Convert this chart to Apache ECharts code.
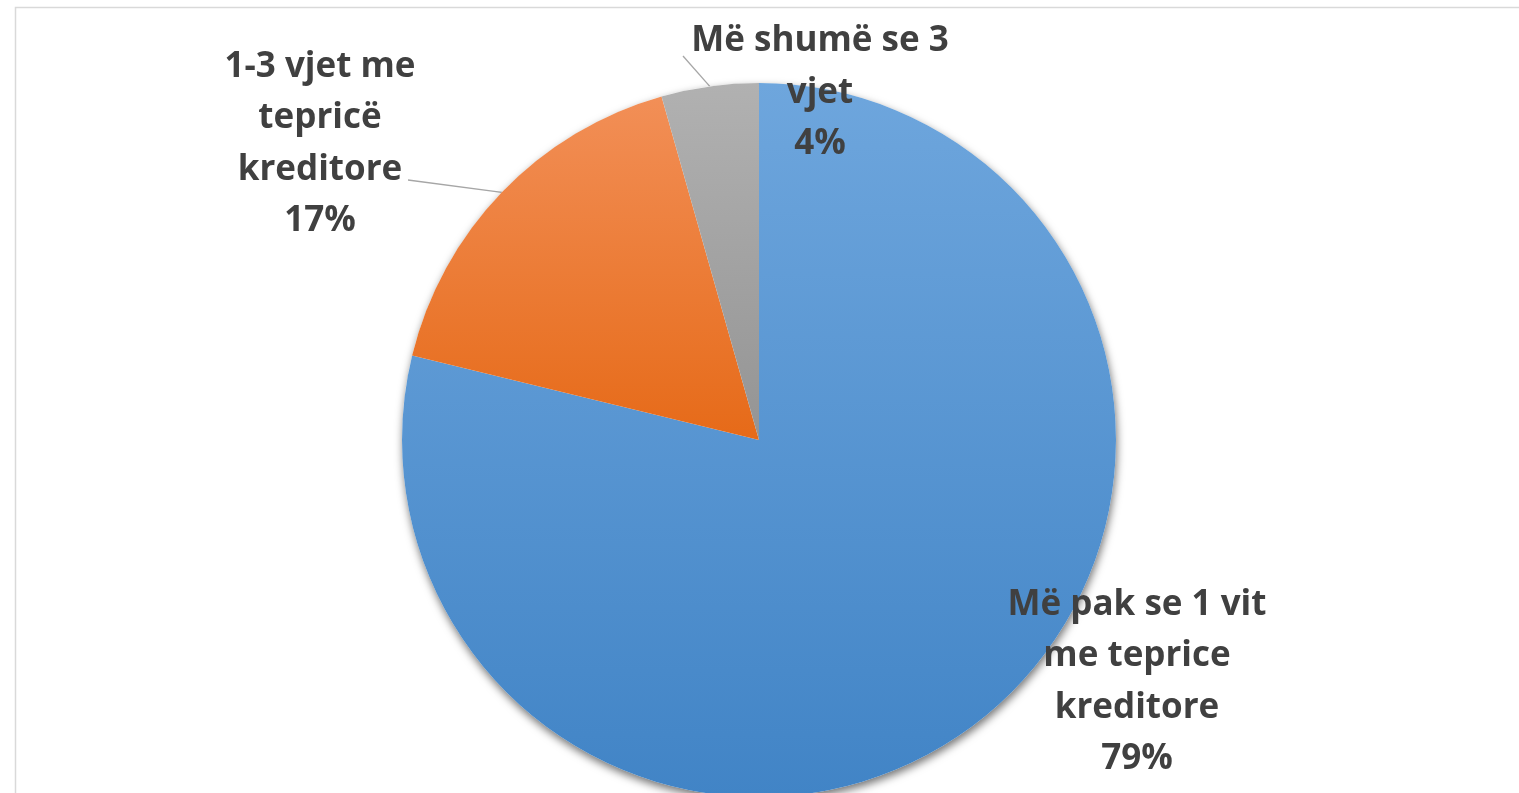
<!DOCTYPE html>
<html>
<head>
    <meta charset="utf-8" />
    <script src="https://cdn.jsdelivr.net/npm/echarts@6/dist/echarts.min.js"></script>
</head>
<body>
    <style>
        html, body { margin: 0; padding: 0; height: 100%; background: #fff; }
        #main { width: 1519px; height: 793px; }
    </style>
    <div id="main"></div>
    <script type="text/javascript">
        // slice names (line breaks as in the original chart) and their shares
        const names = [
            'Më pak se 1 vit\nme teprice\nkreditore',
            '1-3 vjet me\ntepricë\nkreditore',
            'Më shumë se 3\nvjet'
        ];
        const values = [78.8, 16.8, 4.4];
        // gradient top / bottom per slice
        const topColors = ['#6ea6dd', '#f28f57', '#b1b1b1'];
        const bottomColors = ['#4184c6', '#e66a18', '#949494'];
        // where each label block sits (centre of the text block)
        const labelSpots = [[1137, 682], [320, 144], [820, 93]];
        // where the leader line leaves the label (null = no line)
        const lineStarts = [null, [408, 180], [683, 56]];

        const CENTER = [759, 440];
        const RADIUS = 357;

        var chart = echarts.init(document.getElementById('main'), null, { renderer: 'canvas' });

        const sliceData = names.map((n, i) => ({
            name: n,
            value: values[i],
            itemStyle: {
                color: new echarts.graphic.LinearGradient(0, 0, 0, 1, [
                    { offset: 0, color: topColors[i] },
                    { offset: 1, color: bottomColors[i] }
                ])
            },
            labelLine: { show: i !== 0 }
        }));

        chart.setOption({
            animation: false,
            graphic: [{
                type: 'rect',
                left: 13, top: 5,
                shape: { width: 1540, height: 820 },
                style: { fill: 'none', stroke: '#d9d9d9', lineWidth: 1.5 },
                silent: true
            }],
            series: [
                {
                    // drop shadow under the whole disc
                    type: 'pie',
                    center: CENTER,
                    radius: RADIUS,
                    silent: true,
                    label: { show: false },
                    labelLine: { show: false },
                    itemStyle: {
                        color: '#fff',
                        shadowBlur: 9,
                        shadowOffsetY: 4,
                        shadowOffsetX: 1,
                        shadowColor: 'rgba(0,0,0,0.55)'
                    },
                    data: [{ value: values.reduce((a, b) => a + b, 0) }]
                },
                {
                    type: 'pie',
                    center: CENTER,
                    radius: RADIUS,
                    startAngle: 90,
                    clockwise: true,
                    percentPrecision: 0,
                    silent: true,
                    data: sliceData,
                    label: {
                        show: true,
                        position: 'outside',
                        formatter: '{b}\n{d}%',
                        fontFamily: 'Open Sans',
                        fontWeight: 'bold',
                        fontSize: 35,
                        lineHeight: 51.5,
                        color: '#404040',
                        align: 'center'
                    },
                    labelLine: {
                        show: true,
                        lineStyle: { color: '#a6a6a6', width: 1.3 }
                    },
                    labelLayout: function (p) {
                        const s = labelSpots[p.dataIndex];
                        const out = {
                            x: s[0],
                            y: s[1],
                            align: 'center',
                            verticalAlign: 'middle'
                        };
                        const st = lineStarts[p.dataIndex];
                        if (st && p.labelLinePoints) {
                            const edge = p.labelLinePoints[0];
                            out.labelLinePoints = [edge, st, st];
                        }
                        return out;
                    }
                }
            ]
        });
    </script>
</body>
</html>
